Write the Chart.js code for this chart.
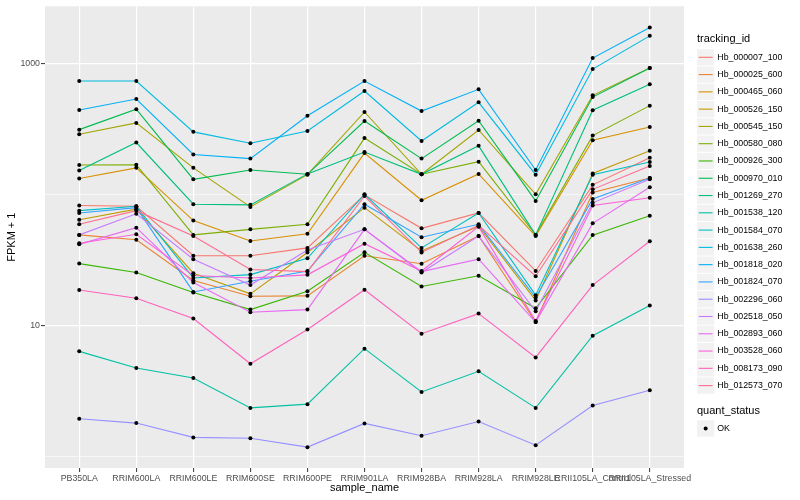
<!DOCTYPE html>
<html>
<head>
<meta charset="utf-8">
<script src="https://cdn.jsdelivr.net/npm/chart.js@4.4.1/dist/chart.umd.min.js"></script>
<style>
html, body { margin: 0; padding: 0; background: #fff; }
#wrap { width: 800px; height: 500px; position: relative; }
</style>
</head>
<body>
<div id="wrap"><canvas id="fpkm"></canvas></div>
<script>
const sampleNames = ['PB350LA', 'RRIM600LA', 'RRIM600LE', 'RRIM600SE', 'RRIM600PE', 'RRIM901LA',
  'RRIM928BA', 'RRIM928LA', 'RRIM928LE', 'RRII105LA_Control', 'RRII105LA_Stressed'];

const trackingIds = ['Hb_000007_100', 'Hb_000025_600', 'Hb_000465_060', 'Hb_000526_150', 'Hb_000545_150',
  'Hb_000580_080', 'Hb_000926_300', 'Hb_000970_010', 'Hb_001269_270', 'Hb_001538_120', 'Hb_001584_070',
  'Hb_001638_260', 'Hb_001818_020', 'Hb_001824_070', 'Hb_002296_060', 'Hb_002518_050', 'Hb_002893_060',
  'Hb_003528_060', 'Hb_008173_090', 'Hb_012573_070'];

// FPKM + 1, one array per gene, in sampleNames order
const hb000007_100 = [82, 81, 34, 34, 39, 99, 55, 72, 26, 118, 190];
const hb000025_600 = [49, 45, 22, 16.7, 16.8, 34, 29.5, 48, 10.6, 103, 133];
const hb000465_060 = [132, 159, 63, 44, 50, 206, 90, 143, 48, 258, 326];
const hb000526_150 = [64, 77, 25, 17.4, 36, 79, 37, 57, 15.5, 144, 215];
const hb000545_150 = [287, 350, 159, 80, 141, 424, 142, 309, 100, 568, 916];
const hb000580_080 = [167, 168, 49, 54, 59, 268, 142, 177, 49, 280, 474];
const hb000926_300 = [29.6, 25.3, 17.8, 13.2, 18.2, 36.1, 19.8, 23.9, 13.5, 48.8, 68.6];
const hb000970_010 = [311, 445, 130, 153, 142, 362, 187, 364, 89, 551, 916];
const hb001269_270 = [152, 248, 84, 83, 143, 210, 142, 234, 49, 437, 689];
const hb001538_120 = [6.34, 4.74, 3.97, 2.35, 2.51, 6.65, 3.11, 4.47, 2.35, 8.35, 14.2];
const hb001584_070 = [75, 81, 23, 24.4, 32.5, 100, 39, 72, 17, 141, 176];
const hb001638_260 = [730, 730, 299, 245, 304, 613, 255, 502, 141, 900, 1613];
const hb001818_020 = [439, 532, 201, 187, 397, 730, 431, 631, 153, 1092, 1869];
const hb001824_070 = [72, 79, 18, 21.7, 26, 84, 47, 59, 16.3, 92, 133];
const hb002296_060 = [1.94, 1.80, 1.40, 1.38, 1.18, 1.79, 1.44, 1.85, 1.22, 2.45, 3.2];
const hb002518_050 = [49, 71, 32, 20.3, 37.6, 54, 25.3, 48, 12.8, 86, 130];
const hb002893_060 = [41.5, 55.6, 21.2, 12.6, 13.2, 54, 25.7, 32, 10.6, 60, 113];
const hb003528_060 = [42.3, 49.5, 24, 23, 24.3, 42, 26, 56.6, 10.8, 82, 94];
const hb008173_090 = [18.6, 16.1, 11.3, 5.1, 9.3, 18.7, 8.65, 12.3, 5.7, 20.3, 43.8];
const hb012573_070 = [59, 75, 48, 26.7, 25.7, 97, 36, 58, 23.7, 109, 164];

const fpkm = [hb000007_100, hb000025_600, hb000465_060, hb000526_150, hb000545_150, hb000580_080,
  hb000926_300, hb000970_010, hb001269_270, hb001538_120, hb001584_070, hb001638_260, hb001818_020,
  hb001824_070, hb002296_060, hb002518_050, hb002893_060, hb003528_060, hb008173_090, hb012573_070];

const yGrid = [1, 10, 100, 1000];
const yLabels = [10, 1000];

// ggplot default hue palette for 20 groups
const lineColors = ['#F8766D', '#EA8331', '#D89000', '#C09B00', '#A3A500', '#7CAE00', '#39B600', '#00BB4E',
  '#00BF7D', '#00C1A3', '#00BFC4', '#00BAE0', '#00B0F6', '#35A2FF', '#9590FF', '#C77CFF', '#E76BF3',
  '#FA62DB', '#FF62BC', '#FF6C91'];

const FONT = '"Liberation Sans", Arial, Helvetica, sans-serif';

const panelBg = {
  id: 'panelBg',
  beforeDraw(chart) {
    const {ctx, chartArea: a} = chart;
    ctx.save();
    ctx.fillStyle = '#EBEBEB';
    ctx.fillRect(a.left, a.top, a.right - a.left, a.bottom - a.top);
    ctx.restore();
  }
};

const ggLegend = {
  id: 'ggLegend',
  afterDraw(chart) {
    const ctx = chart.ctx;
    const x0 = 697, key = 17.28;
    ctx.save();
    ctx.textAlign = 'left';
    ctx.textBaseline = 'middle';
    ctx.fillStyle = '#000';
    ctx.font = '11px ' + FONT;
    ctx.fillText('tracking_id', x0, 38.5);
    ctx.font = '8.8px ' + FONT;
    trackingIds.forEach((id, i) => {
      const yc = 57.3 + i * key;
      ctx.fillStyle = '#F2F2F2';
      ctx.fillRect(x0, yc - key / 2 + 0.5, key, key - 1);
      ctx.strokeStyle = lineColors[i];
      ctx.lineWidth = 1.1;
      ctx.beginPath();
      ctx.moveTo(x0 + 1.7, yc);
      ctx.lineTo(x0 + key - 1.7, yc);
      ctx.stroke();
      ctx.fillStyle = '#000';
      ctx.fillText(id, x0 + key + 3, yc);
    });
    // second legend
    ctx.font = '11px ' + FONT;
    ctx.fillText('quant_status', x0, 411);
    const yk = 428.5;
    ctx.fillStyle = '#F2F2F2';
    ctx.fillRect(x0, yk - key / 2 + 0.5, key, key - 1);
    ctx.fillStyle = '#000';
    ctx.beginPath();
    ctx.arc(x0 + key / 2, yk, 2, 0, Math.PI * 2);
    ctx.fill();
    ctx.font = '8.8px ' + FONT;
    ctx.fillText('OK', x0 + key + 3, yk);
    ctx.restore();
  }
};

const lineSets = trackingIds.map((id, i) => ({
  type: 'line',
  label: id,
  data: fpkm[i].map((v, j) => ({x: j, y: v})),
  borderColor: lineColors[i],
  backgroundColor: lineColors[i],
  borderWidth: 1.1,
  pointRadius: 0,
  tension: 0,
  fill: false,
  order: trackingIds.length - i
}));

const pointSet = {
  type: 'line',
  label: 'OK',
  data: fpkm.flatMap(s => s.map((v, j) => ({x: j, y: v}))),
  showLine: false,
  pointRadius: 2,
  pointBackgroundColor: '#000',
  pointBorderWidth: 0,
  order: 0
};

new Chart(document.getElementById('fpkm'), {
  type: 'line',
  data: { datasets: [...lineSets, pointSet] },
  plugins: [panelBg, ggLegend],
  options: {
    responsive: true,
    maintainAspectRatio: false,
    animation: false,
    events: [],
    layout: { padding: { left: 0, top: 5, right: 116, bottom: 0 } },
    plugins: { legend: { display: false }, tooltip: { enabled: false } },
    scales: {
      x: {
        type: 'linear',
        min: -0.6,
        max: sampleNames.length - 0.4,
        afterBuildTicks: s => { s.ticks = sampleNames.map((_, i) => ({value: i})); },
        afterFit: s => { s.height = 32; },
        ticks: {
          autoSkip: false, maxRotation: 0, minRotation: 0, padding: 1,
          color: '#4D4D4D', font: { family: FONT, size: 8.8 },
          callback: v => sampleNames[v]
        },
        grid: { color: '#FFFFFF', lineWidth: 1.2, tickLength: 4, tickColor: '#333333', tickWidth: 1 },
        border: { display: false },
        title: { display: true, text: 'sample_name', color: '#000', font: { family: FONT, size: 11 },
          padding: { top: 0, bottom: 5.4 } }
      },
      y: {
        type: 'logarithmic',
        min: 0.818,
        max: 2712,
        afterBuildTicks: s => { s.ticks = yGrid.map(v => ({value: v})); },
        afterFit: s => { s.width = 45; },
        ticks: {
          padding: 1, color: '#4D4D4D', font: { family: FONT, size: 8.8 },
          callback: v => yLabels.includes(v) ? String(v) : ''
        },
        grid: {
          color: '#FFFFFF',
          lineWidth: c => yLabels.includes(c.tick.value) ? 1.2 : 0.6,
          tickColor: c => yLabels.includes(c.tick.value) ? '#333333' : 'rgba(0,0,0,0)',
          tickLength: 4, tickWidth: 1
        },
        border: { display: false },
        title: { display: true, text: 'FPKM + 1', color: '#000', font: { family: FONT, size: 11 },
          padding: { top: 5.4, bottom: 0 } }
      }
    }
  }
});
</script>
</body>
</html>
